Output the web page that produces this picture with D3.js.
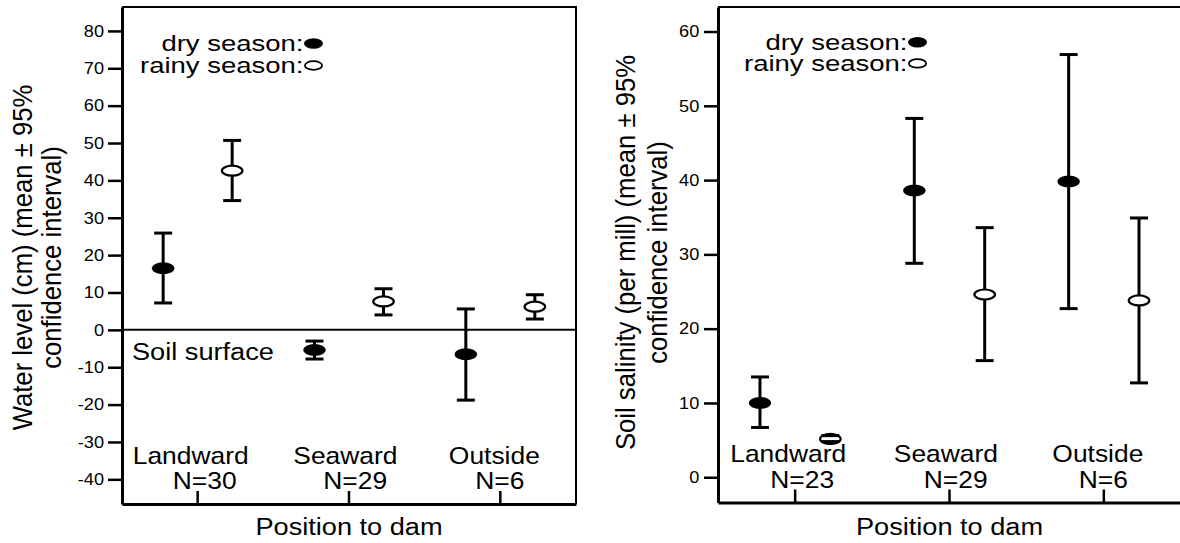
<html>
  <head>
    <meta charset="utf-8" />
    <script src="https://d3js.org/d3.v7.min.js"></script>
  </head>
  <style>
    body {
      margin: 0;
      background: #ffffff;
    }
    svg {
      font-family: "Liberation Sans", Arial, sans-serif;
    }
  </style>
  <body>
    <svg width="1180" height="543"></svg>
    <script>
      // data
      const categories = ["Landward", "Seaward", "Outside"];
      const seasons = ["dry", "rainy"];
      const legendLabels = ["dry season:", "rainy season:"];

      const waterN = ["N=30", "N=29", "N=6"];
      const waterDryMean = [16.5, -5.4, -6.5];
      const waterDryLow = [7.2, -7.8, -18.8];
      const waterDryHigh = [25.9, -3.0, 5.6];
      const waterRainyMean = [42.6, 7.6, 6.2];
      const waterRainyLow = [34.6, 4.0, 2.9];
      const waterRainyHigh = [50.7, 11.0, 9.4];
      const waterTicks = [-40, -30, -20, -10, 0, 10, 20, 30, 40, 50, 60, 70, 80];

      const salN = ["N=23", "N=29", "N=6"];
      const salDryMean = [10.0, 38.6, 39.8];
      const salDryLow = [6.7, 28.8, 22.7];
      const salDryHigh = [13.5, 48.3, 56.9];
      const salRainyMean = [5.16, 24.6, 23.8];
      const salRainyLow = [4.8, 15.7, 12.7];
      const salRainyHigh = [5.6, 33.6, 34.9];
      const salTicks = [0, 10, 20, 30, 40, 50, 60];

      const svg = d3.select("svg");
      const SX = 1.1; // the original is a bit wider than tall

      function label(g, x, y, str, size, opts) {
        opts = opts || {};
        let tr = `translate(${x},${y}) scale(${opts.sx || SX},1)`;
        if (opts.rotate) tr += " rotate(-90)";
        return g
          .append("text")
          .attr("transform", tr)
          .attr("text-anchor", opts.anchor || "middle")
          .attr("font-size", size)
          .attr("fill", "#000")
          .text(str);
      }

      function makeRows(mean, low, high) {
        return categories.map((c, i) => ({ cat: c, mean: mean[i], low: low[i], high: high[i] }));
      }

      function drawPanel(cfg) {
        const g = svg.append("g");

        const x = d3.scaleBand().domain(categories).range([cfg.left, cfg.right]);
        const off = x.bandwidth() * 0.228;
        const xs = d3.scalePoint().domain(seasons).range([-off, off]);
        const y = d3.scaleLinear().domain(cfg.yDomain).range([cfg.bottom, cfg.top]);

        // top and right frame
        g.append("path")
          .attr("d", `M${cfg.left},${cfg.top}H${cfg.right}V${cfg.bottom}`)
          .attr("fill", "none")
          .attr("stroke", "#000")
          .attr("stroke-width", 2);

        // y axis, plain hyphen for negatives
        const yAxis = d3
          .axisLeft(y)
          .tickValues(cfg.ticks)
          .tickSize(14)
          .tickSizeOuter(0)
          .tickFormat((d) => String(d));
        const ya = g.append("g").attr("transform", `translate(${cfg.left},0)`).call(yAxis);
        ya.select(".domain").attr("stroke-width", 3);
        ya.selectAll(".tick line").attr("stroke-width", 2.5);
        ya.selectAll(".tick text")
          .attr("x", null)
          .attr("transform", `translate(-${14 + cfg.tickPad},0) scale(${SX},1)`)
          .attr("font-size", 16.5)
          .attr("font-family", null)
          .attr("fill", "#000");

        // x axis, ticks point inwards
        const xAxis = d3.axisBottom(x).tickSize(-13).tickSizeOuter(0).tickFormat("");
        const xa = g.append("g").attr("transform", `translate(0,${cfg.bottom})`).call(xAxis);
        xa.select(".domain").attr("stroke-width", 3);
        xa.selectAll(".tick line").attr("stroke-width", 2.5);

        // zero line (water level only)
        if (cfg.zeroLine) {
          g.append("line")
            .attr("x1", cfg.left)
            .attr("x2", cfg.right)
            .attr("y1", y(0))
            .attr("y2", y(0))
            .attr("stroke", "#000")
            .attr("stroke-width", 2);
          label(g, cfg.left + 10, y(0) + 30, "Soil surface", 24.7, { anchor: "start" });
        }

        // category labels
        const nameDx = [-7, -3.6, -6];
        const nDx = [7, 6.2, -0.5];
        categories.forEach((c, i) => {
          const cx = x(c) + x.bandwidth() / 2;
          label(g, cx + nameDx[i], cfg.bottom - 40.5, c, 24);
          label(g, cx + nDx[i], cfg.bottom - 15, cfg.nLabels[i], 24);
        });

        // error bars + markers
        cfg.series.forEach((s) => {
          const rows = makeRows(s.mean, s.low, s.high);
          const px = (d) => x(d.cat) + x.bandwidth() / 2 + xs(s.season);
          const bars = g.append("g").selectAll("g").data(rows).enter().append("g");
          bars.append("line")
            .attr("x1", px).attr("x2", px)
            .attr("y1", (d) => y(d.low)).attr("y2", (d) => y(d.high))
            .attr("stroke", "#000").attr("stroke-width", 3);
          bars.append("ellipse")
            .attr("cx", px)
            .attr("cy", (d) => y(d.mean))
            .attr("rx", s.season === "dry" ? 11.3 : 10.3)
            .attr("ry", s.season === "dry" ? 6 : 5)
            .attr("fill", s.season === "dry" ? "#000" : "#fff")
            .attr("stroke", "#000")
            .attr("stroke-width", s.season === "dry" ? 0 : 2.2);
          ["low", "high"].forEach((k) => {
            bars.append("line")
              .attr("x1", (d) => px(d) - 9).attr("x2", (d) => px(d) + 9)
              .attr("y1", (d) => y(d[k])).attr("y2", (d) => y(d[k]))
              .attr("stroke", "#000").attr("stroke-width", 3);
          });
        });

        // legend
        legendLabels.forEach((t, i) => {
          const ly = cfg.legendY[i];
          label(g, cfg.legendX - 10, ly + 7.5, t, 22, { anchor: "end", sx: 1.25 });
          g.append("ellipse")
            .attr("cx", cfg.legendX)
            .attr("cy", ly)
            .attr("rx", i === 0 ? 9.5 : 8.6)
            .attr("ry", i === 0 ? 5.2 : 4.3)
            .attr("fill", i === 0 ? "#000" : "#fff")
            .attr("stroke", "#000")
            .attr("stroke-width", i === 0 ? 0 : 1.8);
        });

        // axis titles
        label(g, cfg.titleX[0], cfg.titleY, cfg.title[0], 25.7, { rotate: true });
        label(g, cfg.titleX[1], cfg.titleY, cfg.title[1], 25.7, { rotate: true });
        label(g, (cfg.left + cfg.right) / 2, 535, "Position to dam", 24.7);
      }

      drawPanel({
        left: 122, right: 576, top: 7, bottom: 504,
        yDomain: [-46.6, 86.4], ticks: waterTicks, tickPad: 4,
        nLabels: waterN, zeroLine: true,
        series: [
          { season: "dry", mean: waterDryMean, low: waterDryLow, high: waterDryHigh },
          { season: "rainy", mean: waterRainyMean, low: waterRainyLow, high: waterRainyHigh }
        ],
        legendX: 313.5, legendY: [43.5, 65.5],
        title: ["Water level (cm) (mean \u00b1 95%", "confidence interval)"],
        titleX: [32, 60.5], titleY: 257.5
      });

      drawPanel({
        left: 718, right: 1181, top: 7, bottom: 502.5,
        yDomain: [-3.4, 63.3], ticks: salTicks, tickPad: 4.7,
        nLabels: salN, zeroLine: false,
        series: [
          { season: "dry", mean: salDryMean, low: salDryLow, high: salDryHigh },
          { season: "rainy", mean: salRainyMean, low: salRainyLow, high: salRainyHigh }
        ],
        legendX: 917.5, legendY: [42.3, 63.4],
        title: ["Soil salinity (per mill) (mean \u00b1 95%", "confidence interval)"],
        titleX: [635, 667], titleY: 252.5
      });
    </script>
  </body>
</html>
